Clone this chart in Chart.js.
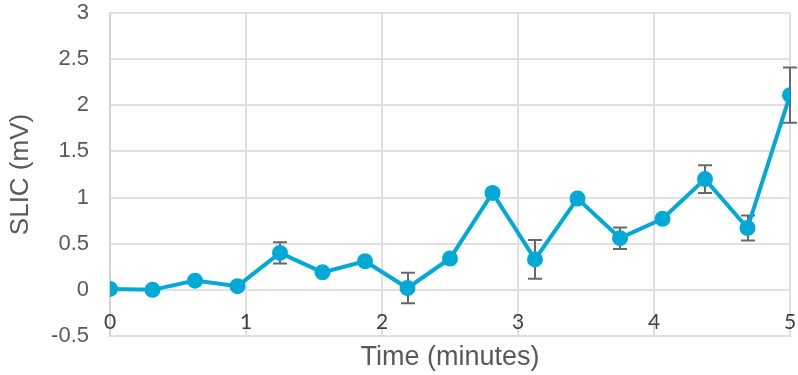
<!DOCTYPE html>
<html>
<head>
<meta charset="utf-8">
<script src="https://cdn.jsdelivr.net/npm/chart.js@4.4.1/dist/chart.umd.min.js"></script>
<style>
  html, body { margin: 0; padding: 0; background: #ffffff; }
  #wrap { width: 798px; height: 375px; }
</style>
</head>
<body>
<div id="wrap"><canvas id="c" width="798" height="375"></canvas></div>
<script>
// Sampling times (minutes)
const times = [0, 0.3125, 0.625, 0.9375, 1.25, 1.5625, 1.875, 2.1875, 2.5, 2.8125, 3.125, 3.4375, 3.75, 4.0625, 4.375, 4.6875, 5];
// Mean SLIC amplitude (mV)
const slic = [0.01, 0.0, 0.10, 0.04, 0.40, 0.19, 0.31, 0.02, 0.34, 1.05, 0.33, 0.99, 0.56, 0.77, 1.20, 0.67, 2.11];
// Error bar half-widths (mV)
const slicErr = [0, 0, 0, 0, 0.115, 0, 0, 0.165, 0.03, 0.03, 0.21, 0, 0.117, 0, 0.15, 0.135, 0.30];
// Axis ticks
const xTicks = [0, 1, 2, 3, 4, 5];
const yTicks = [-0.5, 0, 0.5, 1, 1.5, 2, 2.5, 3];

const lineColor = '#03A9D6';
const gridColor = '#e0e0e0';

const points = times.map((t, i) => ({ x: t, y: slic[i] }));

// Vertical error bars with caps, drawn underneath the series
const errorBars = {
  id: 'errorBars',
  beforeDatasetsDraw(chart) {
    const { ctx, scales: { x, y } } = chart;
    ctx.save();
    ctx.strokeStyle = '#686868';
    ctx.lineWidth = 2;
    const cap = 7;
    times.forEach((t, i) => {
      const e = slicErr[i];
      if (!e) return;
      const px = Math.round(x.getPixelForValue(t));
      const top = y.getPixelForValue(slic[i] + e);
      const bot = y.getPixelForValue(slic[i] - e);
      ctx.beginPath();
      ctx.moveTo(px, top); ctx.lineTo(px, bot);
      ctx.moveTo(px - cap, top); ctx.lineTo(px + cap, top);
      ctx.moveTo(px - cap, bot); ctx.lineTo(px + cap, bot);
      ctx.stroke();
    });
    ctx.restore();
  }
};

// Time tick labels sit just under the zero line, inside the plot
const timeLabels = {
  id: 'timeLabels',
  afterDraw(chart) {
    const { ctx, scales: { x, y } } = chart;
    ctx.save();
    ctx.fillStyle = '#404040';
    ctx.font = '21px Lato';
    ctx.textAlign = 'center';
    ctx.textBaseline = 'middle';
    const py = y.getPixelForValue(0) + 32;
    xTicks.forEach(v => {
      ctx.fillText(String(v), x.getPixelForValue(v), py);
    });
    ctx.restore();
  }
};

new Chart(document.getElementById('c'), {
  type: 'scatter',
  data: {
    datasets: [{
      data: points,
      showLine: true,
      borderColor: lineColor,
      backgroundColor: lineColor,
      borderWidth: 4,
      pointRadius: 8,
      pointHoverRadius: 8,
      pointBorderWidth: 0,
      tension: 0
    }]
  },
  options: {
    responsive: false,
    animation: false,
    events: [],
    layout: { padding: { top: 13, right: 5, left: 0, bottom: 0 } },
    plugins: { legend: { display: false }, tooltip: { enabled: false } },
    scales: {
      x: {
        type: 'linear',
        min: 0, max: 5,
        afterBuildTicks(scale) { scale.ticks = xTicks.map(v => ({ value: v })); },
        afterFit(scale) {
          scale.height = 39;
          scale.paddingLeft = 0; scale.paddingRight = 0;
          scale.paddingTop = 0; scale.paddingBottom = 0;
        },
        grid: { color: gridColor, lineWidth: 2, drawTicks: false },
        border: { color: gridColor, width: 2 },
        ticks: { display: false },
        title: {
          display: true,
          text: 'Time (minutes)',
          color: '#595959',
          font: { family: 'Liberation Sans', size: 27 },
          padding: { top: 0, bottom: 1 }
        }
      },
      y: {
        type: 'linear',
        min: -0.5, max: 3,
        afterBuildTicks(scale) { scale.ticks = yTicks.map(v => ({ value: v })); },
        afterFit(scale) {
          scale.width = 110;
          scale.paddingLeft = 0; scale.paddingRight = 0;
          scale.paddingTop = 0; scale.paddingBottom = 0;
        },
        grid: { color: gridColor, lineWidth: 2, drawTicks: false },
        border: { color: '#d4d4d4', width: 2 },
        ticks: {
          padding: 21,
          color: '#595959',
          font: { family: 'Liberation Sans', size: 22 },
          callback: v => String(v)
        },
        title: {
          display: true,
          text: 'SLIC (mV)',
          color: '#595959',
          font: { family: 'Liberation Sans', size: 26 },
          padding: { top: 5, bottom: 0 }
        }
      }
    }
  },
  plugins: [errorBars, timeLabels]
});
</script>
</body>
</html>
